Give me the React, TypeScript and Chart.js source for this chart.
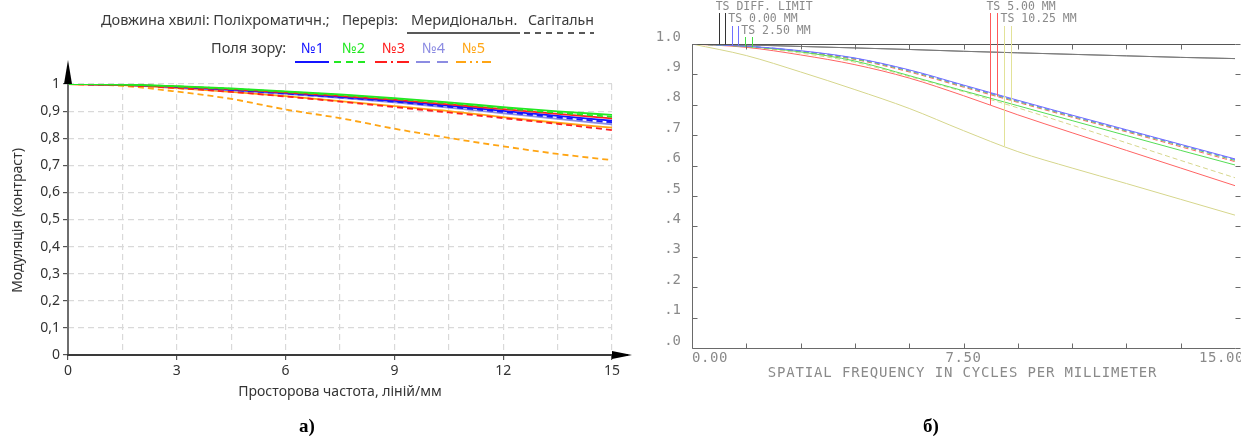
import React, { useEffect, useRef } from "react";
import { Chart, registerables } from "chart.js";
Chart.register(...registerables);

// ===================== Chart (а) =====================
const freqA = [0, 1.5, 3, 4.5, 6, 7.5, 9, 10.5, 12, 13.5, 15];
const xTickLabelsA = [0, 3, 6, 9, 12, 15];
const yTicksA = [0, 0.1, 0.2, 0.3, 0.4, 0.5, 0.6, 0.7, 0.8, 0.9, 1];

const field1Mer = [1, 0.997, 0.989, 0.979, 0.967, 0.953, 0.938, 0.92, 0.901, 0.882, 0.865];
const field1Sag = [1, 0.997, 0.989, 0.978, 0.965, 0.951, 0.935, 0.916, 0.897, 0.877, 0.859];
const field2Mer = [1, 0.998, 0.992, 0.984, 0.973, 0.962, 0.948, 0.932, 0.915, 0.899, 0.886];
const field2Sag = [1, 0.998, 0.991, 0.982, 0.971, 0.959, 0.945, 0.929, 0.911, 0.894, 0.879];
const field3Mer = [1, 0.997, 0.99, 0.981, 0.969, 0.956, 0.942, 0.925, 0.907, 0.89, 0.873];
const field3Sag = [1, 0.996, 0.985, 0.971, 0.954, 0.935, 0.915, 0.895, 0.874, 0.853, 0.83];
const field4Mer = [1, 0.997, 0.988, 0.977, 0.964, 0.949, 0.932, 0.913, 0.892, 0.871, 0.851];
const field4Sag = [1, 0.997, 0.988, 0.977, 0.964, 0.95, 0.933, 0.915, 0.895, 0.875, 0.856];
const field5Mer = [1, 0.996, 0.985, 0.971, 0.955, 0.937, 0.918, 0.9, 0.878, 0.857, 0.839];
const field5Sag = [1, 0.993, 0.972, 0.945, 0.906, 0.874, 0.835, 0.801, 0.77, 0.742, 0.719];

const fieldNames = ["№1", "№2", "№3", "№4", "№5"];
const fieldColors = ["#1414ff", "#22e822", "#ff1e1e", "#8c8ce2", "#ffa514"];
const merSeries = [field1Mer, field2Mer, field3Mer, field4Mer, field5Mer];
const sagSeries = [field1Sag, field2Sag, field3Sag, field4Sag, field5Sag];

// ===================== Chart (б) =====================
const freqB = [0, 1.5, 3, 4.5, 6, 7.5, 9, 10.5, 12, 13.5, 15];
const yTicksB = [0, 0.1, 0.2, 0.3, 0.4, 0.5, 0.6, 0.7, 0.8, 0.9, 1.0];
const xTickMarksB = [1.5, 3, 4.5, 6, 7.5, 9, 10.5, 12, 13.5];
const xLabelsB = ["0.00", "7.50", "15.00"];

const diffT = [1, 0.997, 0.992, 0.987, 0.982, 0.976, 0.971, 0.966, 0.961, 0.956, 0.952];
const diffS = [1, 0.997, 0.992, 0.987, 0.982, 0.976, 0.971, 0.966, 0.961, 0.956, 0.952];
const f0T = [1, 0.993, 0.978, 0.954, 0.915, 0.865, 0.815, 0.766, 0.718, 0.67, 0.622];
const f0S = [1, 0.993, 0.977, 0.953, 0.913, 0.863, 0.813, 0.764, 0.716, 0.668, 0.62];
const f25T = [1, 0.992, 0.974, 0.944, 0.896, 0.846, 0.797, 0.748, 0.699, 0.65, 0.602];
const f25S = [1, 0.992, 0.976, 0.951, 0.911, 0.861, 0.811, 0.762, 0.714, 0.666, 0.617];
const f5T = [1, 0.989, 0.964, 0.932, 0.888, 0.83, 0.767, 0.708, 0.65, 0.592, 0.534];
const f5S = [1, 0.992, 0.975, 0.949, 0.908, 0.858, 0.808, 0.759, 0.711, 0.662, 0.613];
const f1025T = [1, 0.962, 0.908, 0.85, 0.788, 0.715, 0.646, 0.592, 0.541, 0.489, 0.437];
const f1025S = [1, 0.991, 0.97, 0.94, 0.893, 0.843, 0.79, 0.733, 0.675, 0.617, 0.56];

const curveLabelsB = ["TS DIFF. LIMIT", "TS 0.00 MM", "TS 2.50 MM", "TS 5.00 MM", "TS 10.25 MM"];
const curveColorsB = ["#7a7a7a", "#7070ff", "#55dd55", "#ff6464", "#d6d68c"];
const leaderColorsB = ["#333333", "#7070ff", "#44dd44", "#ff5a5a", "#e2e298"];
const tSeriesB = [diffT, f0T, f25T, f5T, f1025T];
const sSeriesB = [diffS, f0S, f25S, f5S, f1025S];
const leaderFreqsB = [[0.75, 0.91], [1.1, 1.28], [1.46, 1.67], [8.23, 8.43], [8.62, 8.81]];
const leaderRowsB = [0, 1, 2, 0, 1];

const SANS = '"Noto Sans", "Open Sans", sans-serif';
const MONO = '"DejaVu Sans Mono", monospace';

function interp(xs: number[], ys: number[], x: number) {
  for (let i = 0; i < xs.length - 1; i++) {
    if (x >= xs[i] && x <= xs[i + 1]) {
      const t = (x - xs[i]) / (xs[i + 1] - xs[i]);
      return ys[i] + t * (ys[i + 1] - ys[i]);
    }
  }
  return ys[ys.length - 1];
}

const leftDecor = {
  id: "leftDecor",
  afterDraw(chart: any) {
    const { ctx, chartArea: a } = chart;
    ctx.save();
    // axes
    const x0 = a.left;
    const y0 = a.bottom;
    ctx.lineWidth = 2;
    ctx.strokeStyle = "#6e6e6e";
    ctx.beginPath();
    ctx.moveTo(x0, y0);
    ctx.lineTo(x0, a.top - 18);
    ctx.stroke();
    ctx.strokeStyle = "#3a3a3a";
    ctx.beginPath();
    ctx.moveTo(x0 - 1, y0);
    ctx.lineTo(a.right + 16, y0);
    ctx.stroke();
    ctx.fillStyle = "#000";
    ctx.beginPath();
    ctx.moveTo(x0, a.top - 24);
    ctx.lineTo(x0 - 4, a.top);
    ctx.lineTo(x0 + 4, a.top);
    ctx.closePath();
    ctx.fill();
    ctx.beginPath();
    ctx.moveTo(a.right + 20, y0);
    ctx.lineTo(a.right, y0 - 4);
    ctx.lineTo(a.right, y0 + 4);
    ctx.closePath();
    ctx.fill();

    // axis titles
    ctx.font = `14px ${SANS}`;
    ctx.fillStyle = "#333";
    ctx.textBaseline = "middle";
    ctx.textAlign = "center";
    ctx.fillText("Просторова частота, ліній/мм", (a.left + a.right) / 2, 392, 212);
    ctx.save();
    ctx.translate(18, (a.top + a.bottom) / 2 + 1);
    ctx.rotate(-Math.PI / 2);
    ctx.fillText("Модуляція (контраст)", 0, 0, 148);
    ctx.restore();

    // header
    ctx.font = `14.5px ${SANS}`;
    ctx.textAlign = "left";
    ctx.fillStyle = "#3a3a3a";
    ctx.fillText("Довжина хвилі: Поліхроматичн.;", 101, 21, 231);
    ctx.fillText("Переріз:", 342, 21, 56);
    ctx.fillText("Меридіональн.", 411, 21, 109);
    ctx.fillText("Сагітальн", 528, 21, 66);
    ctx.lineWidth = 1.5;
    ctx.strokeStyle = "#222";
    ctx.beginPath();
    ctx.moveTo(407, 33);
    ctx.lineTo(520, 33);
    ctx.stroke();
    ctx.setLineDash([6, 5]);
    ctx.beginPath();
    ctx.moveTo(524, 33);
    ctx.lineTo(594, 33);
    ctx.stroke();

    ctx.setLineDash([]);
    ctx.fillText("Поля зору:", 211, 49, 76);
    const labX = [301, 342, 382, 422, 462];
    const lineSeg = [[295, 329], [334, 366], [375, 411], [416, 448], [456, 491]];
    const dashes = [[], [7, 5], [12, 4, 2, 4], [14, 7], [10, 4, 2, 4, 2, 4]];
    fieldNames.forEach((n, i) => {
      ctx.fillStyle = fieldColors[i];
      ctx.fillText(n, labX[i], 49, 26);
      ctx.strokeStyle = fieldColors[i];
      ctx.lineWidth = 2;
      ctx.setLineDash(dashes[i]);
      ctx.beginPath();
      ctx.moveTo(lineSeg[i][0], 62);
      ctx.lineTo(lineSeg[i][1], 62);
      ctx.stroke();
    });
    ctx.restore();
  },
};

function LeftChart() {
  const ref = useRef<HTMLCanvasElement>(null);
  useEffect(() => {
    const datasets: any[] = [];
    [1, 2, 0, 3, 4].forEach((i) => {
      datasets.push({
        label: fieldNames[i] + " M",
        data: freqA.map((f, k) => ({ x: f, y: merSeries[i][k] })),
        borderColor: fieldColors[i],
        borderWidth: 1.8,
        pointRadius: 0,
        cubicInterpolationMode: "monotone",
        fill: false,
      });
      datasets.push({
        label: fieldNames[i] + " S",
        data: freqA.map((f, k) => ({ x: f, y: sagSeries[i][k] })),
        borderColor: fieldColors[i],
        borderDash: [6, 4],
        borderWidth: 1.8,
        pointRadius: 0,
        cubicInterpolationMode: "monotone",
        fill: false,
      });
    });
    const chart = new Chart(ref.current!, {
      type: "line",
      data: { datasets },
      options: {
        animation: false,
        responsive: false,
        maintainAspectRatio: false,
        layout: { padding: { left: 0, right: 28, top: 84, bottom: 54 } },
        plugins: { legend: { display: false }, tooltip: { enabled: false } },
        scales: {
          x: {
            type: "linear",
            min: 0,
            max: 15,
            afterBuildTicks: (s: any) => {
              s.ticks = freqA.map((v) => ({ value: v }));
            },
            afterFit: (s: any) => {
              s.height = 30;
            },
            ticks: {
              autoSkip: false,
              maxRotation: 0,
              padding: 3,
              color: "#333",
              font: { family: SANS, size: 14 },
              callback: (v: any) => (xTickLabelsA.includes(Number(v)) ? String(v) : ""),
            },
            grid: {
              color: "#d9d9d9",
              lineWidth: 1.2,
              tickLength: 5,
              tickColor: (c: any) =>
                c.tick && xTickLabelsA.includes(c.tick.value) ? "#555" : "rgba(0,0,0,0)",
            },
            border: { display: false, dash: [6, 4] },
          },
          y: {
            type: "linear",
            min: 0,
            max: 1,
            afterBuildTicks: (s: any) => {
              s.ticks = yTicksA.map((v) => ({ value: v }));
            },
            afterFit: (s: any) => {
              s.width = 68;
            },
            ticks: {
              padding: 3,
              color: "#333",
              font: { family: SANS, size: 14 },
              callback: (v: any) => (v === 0 ? "0" : v === 1 ? "1" : String(v).replace(".", ",")),
            },
            grid: { color: "#d9d9d9", lineWidth: 1.2, tickLength: 5, tickColor: "#555" },
            border: { display: false, dash: [6, 4] },
          },
        },
      },
      plugins: [leftDecor],
    } as any);
    return () => chart.destroy();
  }, []);
  return (
    <canvas
      ref={ref}
      width={640}
      height={439}
      style={{ position: "absolute", left: 0, top: 0, width: 640, height: 439 }}
    />
  );
}

const rightDecor = {
  id: "rightDecor",
  afterDatasetsDraw(chart: any) {
    const { ctx, chartArea: a, scales } = chart;
    const xs = scales.x;
    const ys = scales.y;
    ctx.save();
    const L = Math.round(a.left) + 0.5;
    const R = Math.round(a.right) + 0.5;
    const T = Math.round(a.top) + 0.5;
    const B = Math.round(a.bottom) + 0.5;
    ctx.lineWidth = 1;
    ctx.strokeStyle = "#555";
    ctx.beginPath();
    ctx.moveTo(L, T);
    ctx.lineTo(R, T);
    ctx.stroke();
    ctx.strokeStyle = "#6a6a6a";
    ctx.beginPath();
    ctx.moveTo(L, T);
    ctx.lineTo(L, B);
    ctx.lineTo(R, B);
    ctx.stroke();
    // y ticks
    yTicksB.forEach((v) => {
      const py = Math.round(ys.getPixelForValue(v)) + 0.5;
      ctx.beginPath();
      ctx.moveTo(L, py);
      ctx.lineTo(L + 5, py);
      ctx.moveTo(R, py);
      ctx.lineTo(R + 5, py);
      ctx.stroke();
    });
    xTickMarksB.forEach((v) => {
      const px = Math.round(xs.getPixelForValue(v)) + 0.5;
      ctx.beginPath();
      ctx.moveTo(px, B);
      ctx.lineTo(px, B - 5);
      ctx.moveTo(px, T);
      ctx.lineTo(px, T + 5);
      ctx.stroke();
    });
    // leaders
    const rowTop = [13, 26, 37];
    leaderFreqsB.forEach((pair, k) => {
      pair.forEach((f, j) => {
        const series = j === 0 ? tSeriesB[k] : sSeriesB[k];
        const px = Math.round(xs.getPixelForValue(f)) + 0.5;
        const py = ys.getPixelForValue(interp(freqB, series, f));
        ctx.strokeStyle = leaderColorsB[k];
        ctx.beginPath();
        ctx.moveTo(px, rowTop[leaderRowsB[k]]);
        ctx.lineTo(px, py);
        ctx.stroke();
      });
    });
    ctx.restore();
  },
  afterDraw(chart: any) {
    const { ctx, chartArea: a, scales } = chart;
    const xs = scales.x;
    const ys = scales.y;
    ctx.save();
    ctx.fillStyle = "#8a8a8a";
    // y labels
    ctx.font = `14px ${MONO}`;
    ctx.textAlign = "right";
    ctx.textBaseline = "middle";
    yTicksB.forEach((v) => {
      const s = v === 1 ? "1.0" : "." + Math.round(v * 10);
      ctx.fillText(s, a.left - 11, ys.getPixelForValue(v) - 7);
    });
    // x labels
    (ctx as any).letterSpacing = "0.6px";
    ctx.textBaseline = "alphabetic";
    ctx.textAlign = "left";
    ctx.fillText(xLabelsB[0], xs.getPixelForValue(0), a.bottom + 14);
    ctx.textAlign = "center";
    ctx.fillText(xLabelsB[1], xs.getPixelForValue(7.5), a.bottom + 14);
    ctx.textAlign = "left";
    ctx.fillText(xLabelsB[2], xs.getPixelForValue(15) - 36, a.bottom + 14);
    (ctx as any).letterSpacing = "0.85px";
    ctx.textAlign = "center";
    ctx.fillText("SPATIAL FREQUENCY IN CYCLES PER MILLIMETER", xs.getPixelForValue(7.5) - 1, a.bottom + 29);
    // curve labels
    (ctx as any).letterSpacing = "0px";
    ctx.font = `11.5px ${MONO}`;
    ctx.textAlign = "left";
    const rowBase = [10, 22, 33.5];
    curveLabelsB.forEach((lab, k) => {
      const px = xs.getPixelForValue(leaderFreqsB[k][0]) - 3.5;
      ctx.fillText(lab, px, rowBase[leaderRowsB[k]]);
    });
    ctx.restore();
  },
};

function RightChart() {
  const ref = useRef<HTMLCanvasElement>(null);
  useEffect(() => {
    const datasets: any[] = [];
    curveLabelsB.forEach((lab, k) => {
      datasets.push({
        label: lab + " T",
        data: freqB.map((f, i) => ({ x: f, y: tSeriesB[k][i] })),
        borderColor: curveColorsB[k],
        borderWidth: 1,
        pointRadius: 0,
        cubicInterpolationMode: "monotone",
        fill: false,
      });
      datasets.push({
        label: lab + " S",
        data: freqB.map((f, i) => ({ x: f, y: sSeriesB[k][i] })),
        borderColor: curveColorsB[k],
        borderDash: k === 0 ? [] : [5, 3],
        borderWidth: 1,
        pointRadius: 0,
        cubicInterpolationMode: "monotone",
        fill: false,
      });
    });
    const chart = new Chart(ref.current!, {
      type: "line",
      data: { datasets },
      options: {
        animation: false,
        responsive: false,
        maintainAspectRatio: false,
        layout: { padding: { left: 0, right: 6, top: 44, bottom: 81 } },
        plugins: { legend: { display: false }, tooltip: { enabled: false } },
        scales: {
          x: {
            type: "linear",
            min: 0,
            max: 15,
            afterFit: (s: any) => {
              s.height = 10;
            },
            ticks: { display: false },
            grid: { display: false },
            border: { display: false },
          },
          y: {
            type: "linear",
            min: 0,
            max: 1,
            afterFit: (s: any) => {
              s.width = 52;
            },
            ticks: { display: false },
            grid: { display: false },
            border: { display: false },
          },
        },
      },
      plugins: [rightDecor],
    } as any);
    return () => chart.destroy();
  }, []);
  return (
    <canvas
      ref={ref}
      width={601}
      height={439}
      style={{ position: "absolute", left: 640, top: 0, width: 601, height: 439 }}
    />
  );
}

export default function App() {
  const cap: React.CSSProperties = {
    position: "absolute",
    top: 425,
    transform: "translate(-50%, -50%)",
    fontFamily: '"Liberation Serif", "Times New Roman", serif',
    fontWeight: "bold",
    fontSize: 19,
    color: "#000",
    lineHeight: 1,
  };
  return (
    <div
      style={{
        position: "absolute",
        left: 0,
        top: 0,
        width: 1241,
        height: 439,
        background: "#fff",
        overflow: "hidden",
      }}
    >
      <LeftChart />
      <RightChart />
      <div style={{ ...cap, left: 307 }}>а)</div>
      <div style={{ ...cap, left: 931 }}>б)</div>
    </div>
  );
}
